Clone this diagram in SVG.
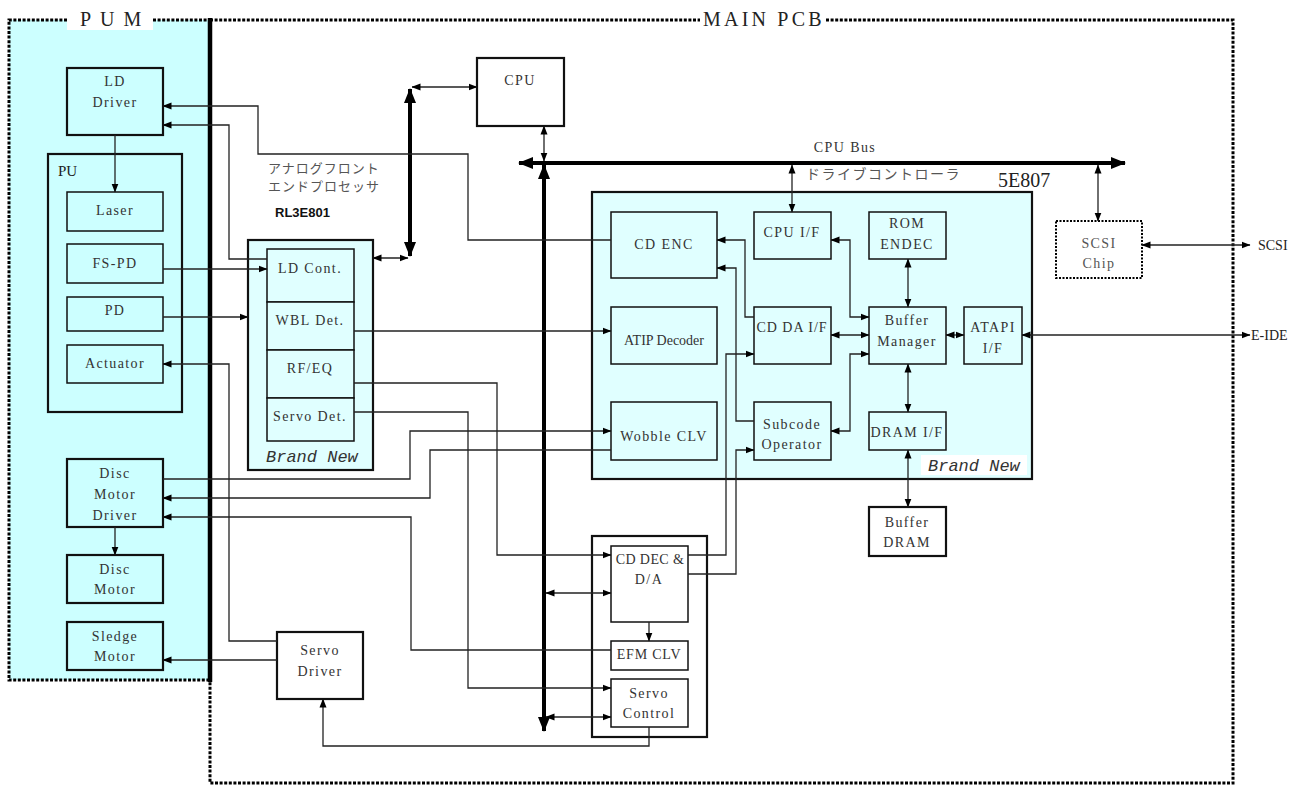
<svg xmlns="http://www.w3.org/2000/svg" width="1302" height="785" viewBox="0 0 1302 785">
<style>
.lbl{font-family:"Liberation Serif","DejaVu Serif",serif;font-size:14px;letter-spacing:1.4px;fill:#333;text-anchor:middle}
.ser{font-family:"Liberation Serif","DejaVu Serif",serif;fill:#222}
.jp{font-family:"Noto Sans CJK JP","Noto Sans CJK SC",sans-serif;font-size:13px;fill:#555;letter-spacing:1px}
.bn{font-family:"Liberation Mono",monospace;font-style:italic;font-size:17px;fill:#333}
.box{fill:#ccffff;stroke:#111;stroke-width:1.5}
.boxb{fill:#ccffff;stroke:#111;stroke-width:2.2}
.lbox{fill:#e0ffff;stroke:#111;stroke-width:1.5}
.wbox{fill:#fff;stroke:#111;stroke-width:2.2}
.c{fill:none;stroke:#222;stroke-width:1.3}
.t{fill:none;stroke:#000;stroke-width:4}
.dot{fill:none;stroke:#000;stroke-width:3;stroke-dasharray:3 1.6}
</style>
<defs>
<marker id="a" markerUnits="userSpaceOnUse" markerWidth="9" markerHeight="8" refX="8.5" refY="4" orient="auto-start-reverse"><path d="M0,0.5 L9,4 L0,7.5 z" fill="#000"/></marker>
<marker id="A" markerUnits="userSpaceOnUse" markerWidth="15" markerHeight="14" refX="14" refY="7" orient="auto-start-reverse"><path d="M0,1 L15,7 L0,13 z" fill="#000"/></marker>
</defs>
<rect width="1302" height="785" fill="#fff"/>

<g id="pum">
<rect x="9" y="20" width="201" height="660" fill="#ccffff"/>
<path class="dot" d="M67,20 H9 V680 H210"/>
<path class="dot" d="M153,20 H210"/>
<rect x="67" y="8" width="86" height="22" fill="#fff"/>
<text class="ser" x="80" y="26" font-size="20" letter-spacing="9">PUM</text>
</g>

<g id="mainpcb">
<path class="dot" d="M210,20 H700"/>
<path class="dot" d="M826,20 H1233 V783 H210 V680"/>
<text class="ser" x="703" y="26" font-size="20" letter-spacing="3.2">MAIN PCB</text>
<line x1="210" y1="18" x2="210" y2="682" stroke="#000" stroke-width="4.5"/>
</g>

<g id="ld-driver"><rect class="boxb" x="67" y="68" width="96" height="67"/><text class="lbl" x="115" y="86">LD</text><text class="lbl" x="115" y="107">Driver</text></g>
<g id="pu"><rect class="boxb" x="48" y="154" width="134" height="258"/><text class="ser" x="58" y="176" font-size="15" fill="#333">PU</text></g>
<g id="laser"><rect class="box" x="67" y="192" width="96" height="39"/><text class="lbl" x="115" y="215">Laser</text></g>
<g id="fs-pd"><rect class="box" x="67" y="244" width="96" height="39"/><text class="lbl" x="115" y="268">FS-PD</text></g>
<g id="pd"><rect class="box" x="67" y="297" width="96" height="34"/><text class="lbl" x="115" y="315">PD</text></g>
<g id="actuator"><rect class="box" x="67" y="345" width="96" height="38"/><text class="lbl" x="115" y="368">Actuator</text></g>
<g id="disc-motor-driver"><rect class="boxb" x="67" y="459" width="96" height="68"/><text class="lbl" x="115" y="478">Disc</text><text class="lbl" x="115" y="499">Motor</text><text class="lbl" x="115" y="520">Driver</text></g>
<g id="disc-motor"><rect class="boxb" x="67" y="555" width="96" height="48"/><text class="lbl" x="115" y="574">Disc</text><text class="lbl" x="115" y="594">Motor</text></g>
<g id="sledge-motor"><rect class="boxb" x="67" y="622" width="96" height="48"/><text class="lbl" x="115" y="641">Sledge</text><text class="lbl" x="115" y="661">Motor</text></g>

<g id="servo-driver"><rect class="wbox" x="277" y="632" width="86" height="67"/><text class="lbl" x="320" y="655">Servo</text><text class="lbl" x="320" y="676">Driver</text></g>
<g id="cpu"><rect class="wbox" x="477" y="58" width="87" height="68"/><text class="lbl" x="520" y="85">CPU</text></g>

<g id="rl3e801">
<text class="jp" x="268" y="173">アナログフロント</text>
<text class="jp" x="268" y="191">エンドプロセッサ</text>
<text x="275" y="217" font-family="Liberation Sans,Arial,sans-serif" font-weight="bold" font-size="13" fill="#111">RL3E801</text>
<rect x="248" y="240" width="125" height="230" fill="#e0ffff" stroke="#111" stroke-width="2.2"/>
<rect class="lbox" x="267" y="249" width="87" height="53"/><text class="lbl" x="310" y="273">LD Cont.</text>
<rect class="lbox" x="267" y="302" width="87" height="48"/><text class="lbl" x="310" y="325">WBL Det.</text>
<rect class="lbox" x="267" y="350" width="87" height="48"/><text class="lbl" x="310" y="373">RF/EQ</text>
<rect class="lbox" x="267" y="398" width="87" height="43"/><text class="lbl" x="310" y="421">Servo Det.</text>
<text class="bn" x="266" y="462">Brand New</text>
</g>

<g id="e5e807">
<text class="ser" x="998" y="187" font-size="20">5E807</text>
<rect x="592" y="192" width="440" height="287" fill="#e0ffff" stroke="#111" stroke-width="2.2"/>
<rect x="921" y="455" width="106" height="20" fill="#fff"/>
<text class="bn" x="928" y="471">Brand New</text>
</g>
<g id="cd-enc"><rect class="lbox" x="611" y="212" width="106" height="66"/><text class="lbl" x="664" y="249">CD ENC</text></g>
<g id="cpu-if"><rect class="lbox" x="754" y="212" width="77" height="47"/><text class="lbl" x="792" y="237">CPU I/F</text></g>
<g id="rom-endec"><rect class="lbox" x="869" y="212" width="77" height="47"/><text class="lbl" x="907" y="228">ROM</text><text class="lbl" x="907" y="249">ENDEC</text></g>
<g id="atip-decoder"><rect class="lbox" x="611" y="307" width="106" height="57"/><text x="664" y="345" font-family="Liberation Serif,serif" font-size="14" fill="#333" text-anchor="middle">ATIP Decoder</text></g>
<g id="cd-da-if"><rect class="lbox" x="754" y="307" width="77" height="57"/><text class="lbl" x="792" y="332" style="letter-spacing:1px">CD DA I/F</text></g>
<g id="buffer-manager"><rect class="lbox" x="869" y="307" width="77" height="57"/><text class="lbl" x="907" y="325">Buffer</text><text class="lbl" x="907" y="346">Manager</text></g>
<g id="atapi-if"><rect class="lbox" x="964" y="307" width="58" height="57"/><text class="lbl" x="993" y="332">ATAPI</text><text class="lbl" x="993" y="353">I/F</text></g>
<g id="wobble-clv"><rect class="lbox" x="611" y="402" width="106" height="58"/><text class="lbl" x="664" y="441">Wobble CLV</text></g>
<g id="subcode-operator"><rect class="lbox" x="754" y="402" width="77" height="58"/><text class="lbl" x="792" y="429">Subcode</text><text class="lbl" x="792" y="449">Operator</text></g>
<g id="dram-if"><rect class="lbox" x="869" y="412" width="77" height="38"/><text class="lbl" x="907" y="437">DRAM I/F</text></g>
<g id="buffer-dram"><rect class="wbox" x="869" y="507" width="77" height="49"/><text class="lbl" x="907" y="527">Buffer</text><text class="lbl" x="907" y="547">DRAM</text></g>

<g id="cd-dec-group"><rect class="wbox" x="592" y="536" width="115" height="201"/></g>
<g id="cd-dec"><rect class="wbox" style="stroke-width:1.5" x="611" y="546" width="77" height="76"/><text class="lbl" x="650" y="564" style="letter-spacing:0.4px">CD DEC &amp;</text><text class="lbl" x="649" y="584">D/A</text></g>
<g id="efm-clv"><rect class="wbox" style="stroke-width:1.5" x="611" y="641" width="77" height="29"/><text class="lbl" x="649" y="659" style="letter-spacing:0.8px">EFM CLV</text></g>
<g id="servo-control"><rect class="wbox" style="stroke-width:1.5" x="611" y="679" width="77" height="48"/><text class="lbl" x="649" y="698">Servo</text><text class="lbl" x="649" y="718">Control</text></g>

<g id="scsi-chip"><rect x="1056" y="221" width="86" height="57" fill="#fff" stroke="#000" stroke-width="2" stroke-dasharray="2 1.5"/><text class="lbl" x="1099" y="248" style="fill:#555">SCSI</text><text class="lbl" x="1099" y="268" style="fill:#555">Chip</text></g>

<g id="connectors">
<path class="t" d="M410,89 V256" marker-start="url(#A)" marker-end="url(#A)"/>
<path class="t" d="M519,163 H1125" marker-start="url(#A)" marker-end="url(#A)"/>
<path class="t" d="M544,165 V731" marker-start="url(#A)" marker-end="url(#A)"/>
<path class="c" d="M412,87 H477" marker-start="url(#a)" marker-end="url(#a)"/>
<path class="c" d="M373,258 H408" marker-start="url(#a)" marker-end="url(#a)"/>
<path class="c" d="M544,126 V161" marker-start="url(#a)" marker-end="url(#a)"/>
<path class="c" d="M792,165 V212" marker-start="url(#a)" marker-end="url(#a)"/>
<path class="c" d="M1098,165 V221" marker-start="url(#a)" marker-end="url(#a)"/>
<path class="c" d="M1142,245 H1250" marker-start="url(#a)" marker-end="url(#a)"/>
<path class="c" d="M1022,335 H1250" marker-start="url(#a)" marker-end="url(#a)"/>
<path class="c" d="M115,135 V192" marker-end="url(#a)"/>
<path class="c" d="M115,527 V555" marker-end="url(#a)"/>
<path class="c" d="M611,240 H468 V154 H258 V106 H163" marker-end="url(#a)"/>
<path class="c" d="M267,259 H229 V125 H163" marker-end="url(#a)"/>
<path class="c" d="M163,269 H267" marker-end="url(#a)"/>
<path class="c" d="M163,317 H248" marker-end="url(#a)"/>
<path class="c" d="M277,641 H229 V364 H163" marker-end="url(#a)"/>
<path class="c" d="M277,660 H163" marker-end="url(#a)"/>
<path class="c" d="M354,331 H611" marker-end="url(#a)"/>
<path class="c" d="M354,383 H497 V555 H611" marker-end="url(#a)"/>
<path class="c" d="M354,412 H468 V688 H611" marker-end="url(#a)"/>
<path class="c" d="M163,479 H410 V431 H611" marker-end="url(#a)"/>
<path class="c" d="M611,450 H430 V498 H163" marker-end="url(#a)"/>
<path class="c" d="M611,650 H411 V517 H163" marker-end="url(#a)"/>
<path class="c" d="M649,727 V746 H323 V699" marker-end="url(#a)"/>
<path class="c" d="M649,622 V641" marker-end="url(#a)"/>
<path class="c" d="M546,593 H611" marker-start="url(#a)" marker-end="url(#a)"/>
<path class="c" d="M546,717 H611" marker-start="url(#a)" marker-end="url(#a)"/>
<path class="c" d="M688,555 H726 V354 H754" marker-end="url(#a)"/>
<path class="c" d="M688,574 H736 V450 H754" marker-end="url(#a)"/>
<path class="c" d="M754,317 H745 V240 H717" marker-end="url(#a)"/>
<path class="c" d="M754,421 H736 V268 H717" marker-end="url(#a)"/>
<path class="c" d="M831,240 H850 V317 H869" marker-start="url(#a)" marker-end="url(#a)"/>
<path class="c" d="M831,335 H869" marker-start="url(#a)" marker-end="url(#a)"/>
<path class="c" d="M831,431 H850 V354 H869" marker-start="url(#a)" marker-end="url(#a)"/>
<path class="c" d="M908,259 V307" marker-start="url(#a)" marker-end="url(#a)"/>
<path class="c" d="M946,335 H964" marker-start="url(#a)" marker-end="url(#a)"/>
<path class="c" d="M908,364 V412" marker-start="url(#a)" marker-end="url(#a)"/>
<path class="c" d="M908,450 V507" marker-start="url(#a)" marker-end="url(#a)"/>
</g>

<g id="labels">
<text class="lbl" x="845" y="152">CPU Bus</text>
<text class="jp" x="806" y="179" style="font-size:14px;letter-spacing:1.5px">ドライブコントローラ</text>
<text class="ser" x="1258" y="250" font-size="14">SCSI</text>
<text class="ser" x="1251" y="340" font-size="14">E-IDE</text>
</g>
</svg>
